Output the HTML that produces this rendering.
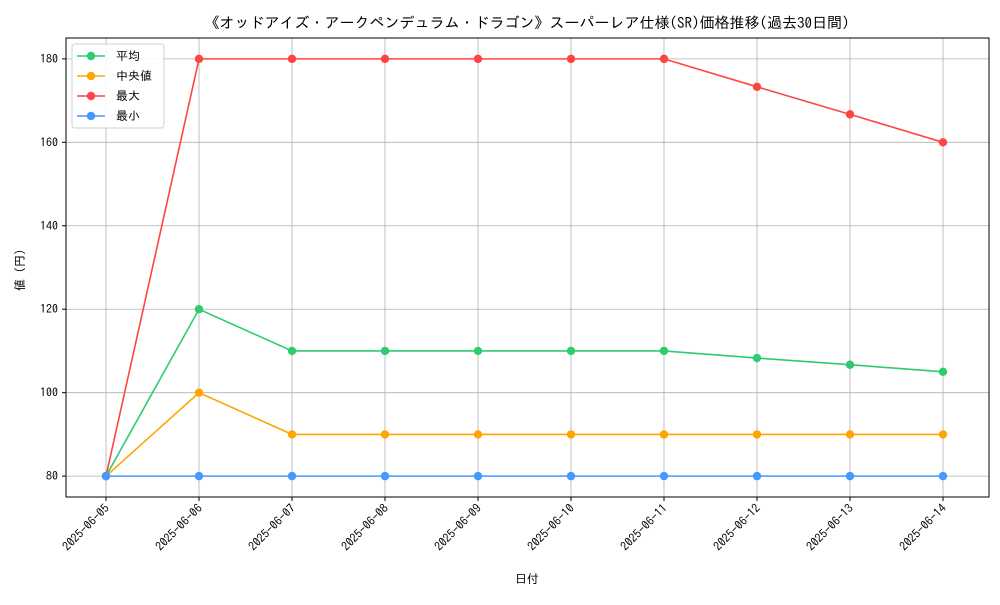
<!DOCTYPE html>
<html><head><meta charset="utf-8"><style>
body{margin:0;background:#fff;}
svg text{font-family:"IPAGothic","Noto Sans CJK JP",sans-serif;fill:#000;}
</style></head><body>
<svg id="chart" width="1000" height="600" xmlns="http://www.w3.org/2000/svg">
<rect width="1000" height="600" fill="#fff"/>
<text x="527" y="28" font-size="15" text-anchor="middle">《オッドアイズ・アークペンデュラム・ドラゴン》スーパーレア仕様(SR)価格推移(過去30日間)</text>
<g id="grid"></g><g id="axes"></g><g id="series"></g>
<rect x="66" y="38" width="923" height="459" fill="none" stroke="#000" stroke-width="1"/>
<text x="527" y="583" font-size="12" text-anchor="middle">日付</text>
<text transform="translate(24,267) rotate(-90)" font-size="12" text-anchor="middle">値（円）</text>
<g id="legend"></g>
</svg>
<script>
const categories=["2025-06-05","2025-06-06","2025-06-07","2025-06-08","2025-06-09","2025-06-10","2025-06-11","2025-06-12","2025-06-13","2025-06-14"];
const avgValues=[80,120,110,110,110,110,110,108.3,106.7,105];
const medianValues=[80,100,90,90,90,90,90,90,90,90];
const maxValues=[80,180,180,180,180,180,180,173.3,166.7,160];
const minValues=[80,80,80,80,80,80,80,80,80,80];
const yTicks=[80,100,120,140,160,180];
const seriesNames=["平均","中央値","最大","最小"];
const NS="http://www.w3.org/2000/svg";
const L=66,R=989,T=38,B=497,yMin=75,yMax=185;
const n=categories.length;
const step=93;
function xPos(i){return 106+i*step;}
function yPos(v){return B-(v-yMin)/(yMax-yMin)*(B-T);}
function mk(tag,attrs,parent){const e=document.createElementNS(NS,tag);for(const k in attrs)e.setAttribute(k,attrs[k]);parent.appendChild(e);return e;}
const grid=document.getElementById('grid'),axes=document.getElementById('axes'),ser=document.getElementById('series'),leg=document.getElementById('legend');
categories.forEach((c,i)=>{const x=xPos(i);
 const g=mk('line',{x1:x,x2:x,y1:T,y2:B,stroke:'#b0b0b0','stroke-width':0.8},grid);
 
 
 mk('line',{x1:x,x2:x,y1:B,y2:B+4,stroke:'#000'},axes);
 const t=mk('text',{x:x+4,y:B+12,'font-size':12,'text-anchor':'end',transform:`rotate(-45 ${x+4} ${B+12})`},axes);
 
 
 t.textContent=c;});
yTicks.forEach(v=>{const y=yPos(v);
 const g=mk('line',{x1:L,x2:R,y1:y,y2:y,stroke:'#b0b0b0','stroke-width':0.8},grid);
 
 
 mk('line',{x1:L-4,x2:L,y1:y,y2:y,stroke:'#000'},axes);
 const t=mk('text',{x:L-8,y:y+4,'font-size':12,'text-anchor':'end'},axes);
 
 
 t.textContent=v;});
const all=[avgValues,medianValues,maxValues,minValues];
const colors=["#2ecc71","#ffa500","#ff4444","#4499ff"];
const keys=["average","median","max","min"];
all.forEach((vals,s)=>{
 const p=mk('polyline',{points:vals.map((v,i)=>xPos(i)+','+yPos(v)).join(' '),fill:'none',stroke:colors[s],'stroke-width':1.6},ser);
 
 
 vals.forEach((v,i)=>{const c=mk('circle',{cx:xPos(i),cy:yPos(v),r:4.2,fill:colors[s]},ser);
  
  });
});
const lb=mk('rect',{x:72,y:44,width:92,height:84,fill:'#fff',stroke:'#ccc',rx:3,opacity:0.9},leg);


seriesNames.forEach((nm,s)=>{const y=56+s*20;
 const g=mk('g',{},leg);
 
 
 mk('line',{x1:77,x2:105,y1:y,y2:y,stroke:colors[s],'stroke-width':1.6},g);
 mk('circle',{cx:91,cy:y,r:4.2,fill:colors[s]},g);
 const t=mk('text',{x:116,y:y+4,'font-size':12},g);t.textContent=nm;});
</script>
</body></html>
